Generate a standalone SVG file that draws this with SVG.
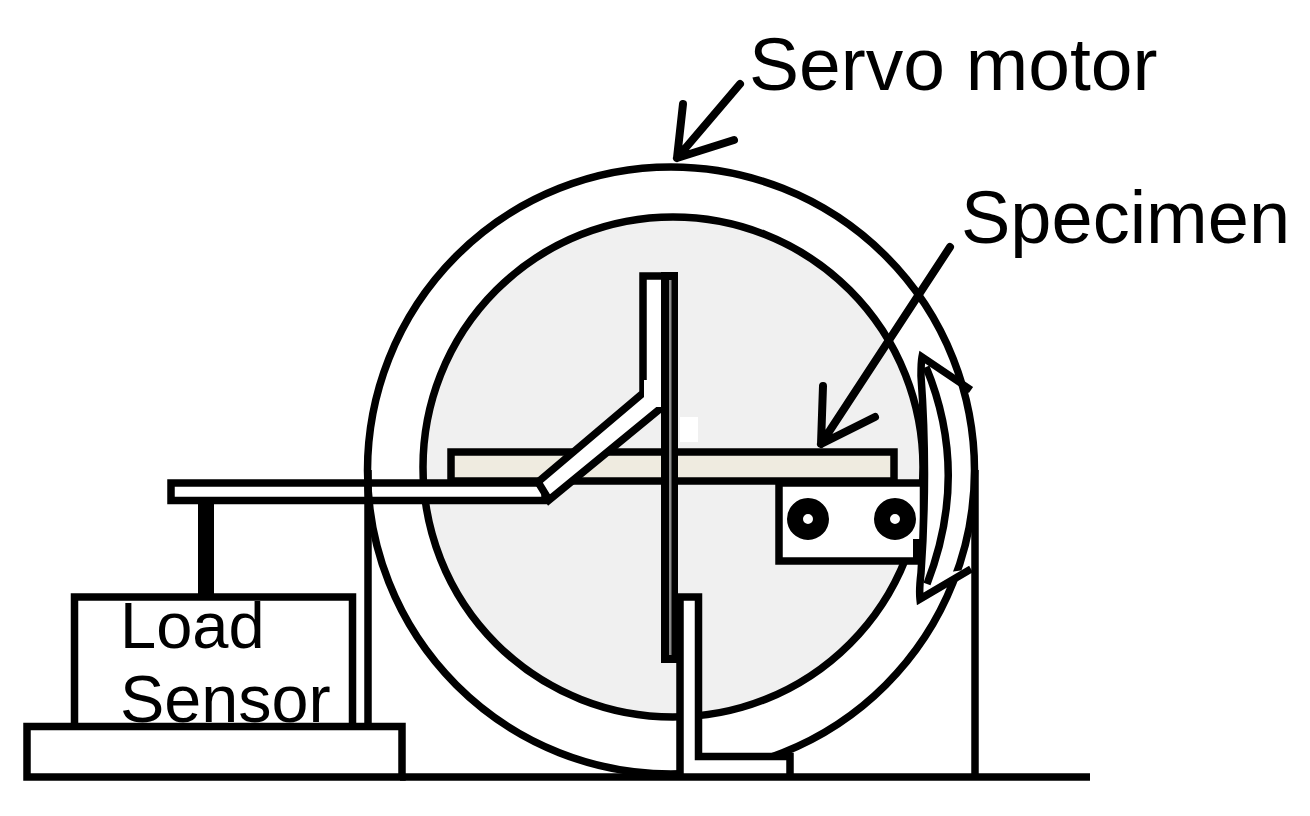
<svg xmlns="http://www.w3.org/2000/svg" width="1310" height="816" viewBox="0 0 1310 816">
<style>
.s{fill:none;stroke:#000;stroke-width:7.500;stroke-linejoin:miter}
.w{fill:#fff;stroke:#000;stroke-width:7.500;stroke-linejoin:miter}
.a{fill:none;stroke:#000;stroke-width:8;stroke-linecap:round;stroke-linejoin:round}
text{font-family:"Liberation Sans",Arial,sans-serif;fill:#000}
</style>
<rect width="1310" height="816" fill="#fff"/>
<g id="drum-inner"><circle cx="673" cy="467" r="250" fill="#f0f0f0" stroke="#000" stroke-width="7.500"/></g>
<rect x="680" y="417" width="18" height="25" fill="#fff"/>
<g id="specimen"><rect x="451" y="452" width="443" height="29" fill="#efebe0" stroke="#000" stroke-width="7.500"/></g>
<g id="arm">
<rect class="w" x="171" y="483" width="374" height="17.500"/>
<path class="w" d="M666,276 H643 V393 L538,482 L549,500 L666,404 Z"/>
<rect x="644" y="380" width="18" height="27" fill="#fff"/>
</g>
<g id="plate"><rect x="661" y="272" width="17" height="391" fill="#000"/><rect x="669" y="280" width="2.500" height="375" fill="#8a8a8a"/></g>
<g id="drum-outer"><circle class="s" cx="671" cy="470.500" r="303.500"/></g>
<g id="supports">
<path class="s" d="M368,470 V726"/>
<path class="s" d="M975,470 V777"/>
<rect x="198" y="503" width="16" height="92" fill="#000"/>
</g>
<g id="clamp">
<rect class="w" x="779" y="483" width="144.500" height="78"/>
<circle cx="808" cy="519" r="13" fill="#fff" stroke="#000" stroke-width="16"/>
<circle cx="895" cy="519" r="13" fill="#fff" stroke="#000" stroke-width="16"/>
<rect x="913" y="539" width="13" height="24" fill="#000"/>
</g>
<g id="rotation-arrow">
<path d="M921,356 L971,390 L950,378 Q972,480 950,572 L971,569 L919,600 Q931,480 921,356 Z" fill="#fff" stroke="none"/>
<path class="s" d="M971,390 L922,357 Q921,362 921,376 Q928,473 921,573 Q919,590 920,599 L971,569"/>
<path class="s" d="M926,367 Q970,473 927,584"/>
</g>
<g id="load-sensor">
<rect class="w" x="74.500" y="597" width="278" height="130"/>
<text x="120" y="648" font-size="65">Load</text>
<text x="120" y="722" font-size="66.500">Sensor</text>
</g>
<g id="foot">
<path class="w" d="M680,777 V597 H698.500 V756.500 H790 V777"/>
</g>
<g id="base"><rect class="w" x="27" y="726.500" width="375" height="50.500"/></g>
<g id="connectors">
<path class="s" d="M400,777 H1090"/>
<path class="a" d="M740,84 L677,158 M683,104 L677,158 L734,140"/>
<path class="a" d="M950,247 L821,444 M823,386 L821,444 L875,417"/>
</g>
<g id="labels">
<text x="749" y="90" font-size="75">Servo motor</text>
<text x="961" y="243" font-size="74">Specimen</text>
</g>
</svg>
